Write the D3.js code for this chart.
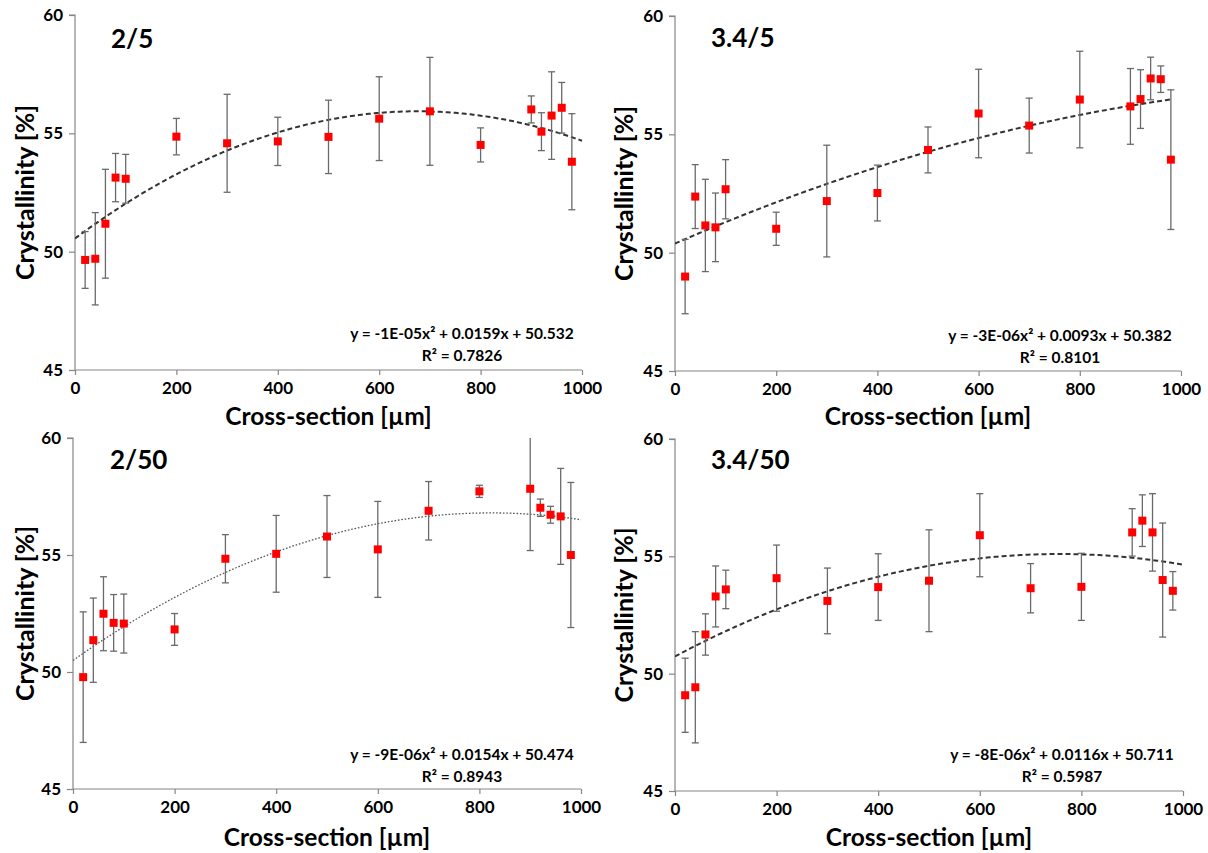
<!DOCTYPE html>
<html><head><meta charset="utf-8">
<script src="https://cdn.jsdelivr.net/npm/d3@7/dist/d3.min.js"></script>
<style>
body{margin:0;background:#fff}
svg{display:block}
text{font-family:Lato,"Open Sans",sans-serif;fill:#000}
</style></head>
<body>
<svg id="chart" width="1208" height="853"></svg>
<script>
// ---------- data ----------
const crossSection = [20,40,60,80,100,200,300,400,500,600,700,800,900,920,940,960,980];
const panelNames = ["2/5","3.4/5","2/50","3.4/50"];

const cryst_2_5   = [49.65,49.70,51.18,53.13,53.08,54.86,54.58,54.66,54.85,55.62,55.93,54.51,56.01,55.07,55.75,56.08,53.80];
const err_2_5     = [1.20,1.95,2.30,1.02,1.03,0.77,2.07,1.02,1.55,1.77,2.28,0.72,0.57,0.80,1.85,1.07,2.03];

const cryst_34_5  = [48.99,52.37,51.15,51.07,52.68,51.01,52.18,52.52,54.34,55.88,55.37,56.47,56.18,56.49,57.36,57.33,53.93];
const err_34_5    = [1.57,1.35,1.95,1.45,1.25,0.70,2.36,1.18,0.97,1.87,1.16,2.04,1.60,1.24,0.90,0.56,2.95];

const cryst_2_50  = [49.78,51.36,52.49,52.10,52.07,51.82,54.84,55.05,55.79,55.24,56.89,57.72,57.83,57.02,56.72,56.65,55.00];
const err_2_50    = [2.79,1.80,1.58,1.21,1.26,0.68,1.03,1.64,1.75,2.05,1.25,0.26,2.64,0.37,0.36,2.05,3.10];

const cryst_34_50 = [49.08,49.42,51.67,53.29,53.59,54.07,53.10,53.69,53.96,55.90,53.64,53.70,56.02,56.52,56.02,53.99,53.53];
const err_34_50   = [1.58,2.37,0.88,1.30,0.82,1.41,1.40,1.42,2.17,1.77,1.05,1.43,1.01,1.10,1.65,2.43,0.82];

const equationLabels = ["y = -1E-05x² + 0.0159x + 50.532","y = -3E-06x² + 0.0093x + 50.382","y = -9E-06x² + 0.0154x + 50.474","y = -8E-06x² + 0.0116x + 50.711"];
const r2Labels = ["R² = 0.7826","R² = 0.8101","R² = 0.8943","R² = 0.5987"];
const trendEnd = [1000,980,1000,1000];

const xTicks = [0,200,400,600,800,1000];
const yTicks = [45,50,55,60];
const xTitle = "Cross-section [µm]";
const yTitle = "Crystallinity [%]";

const seriesValues = [cryst_2_5, cryst_34_5, cryst_2_50, cryst_34_50];
const seriesErrors = [err_2_5, err_34_5, err_2_50, err_34_50];

// ---------- layout ----------
const frames = [
  {x0:75, x1:582, top:15, bottom:370, titleX:25, xTitleY:425, labelX:111, labelY:48, eqRight:577, eqY:339, trend:"dash"},
  {x0:675,x1:1181,top:16, bottom:371, titleX:624,xTitleY:425, labelX:711, labelY:47, eqRight:1175,eqY:341, trend:"dash"},
  {x0:73, x1:581, top:438,bottom:789, titleX:25, xTitleY:846, labelX:110, labelY:469,eqRight:577, eqY:760, trend:"dot"},
  {x0:675,x1:1183,top:439,bottom:791, titleX:624,xTitleY:846, labelX:711, labelY:469,eqRight:1177,eqY:760, trend:"dash"}
];

// least squares quadratic fit (like a spreadsheet polynomial trendline)
function quadFit(xv, yv){
  let S=[0,0,0,0,0], T=[0,0,0];
  xv.forEach((x,i)=>{ const y=yv[i]; let p=1;
    for(let k=0;k<5;k++){ S[k]+=p; if(k<3) T[k]+=p*y; p*=x; } });
  const A=[[S[0],S[1],S[2],T[0]],[S[1],S[2],S[3],T[1]],[S[2],S[3],S[4],T[2]]];
  for(let i=0;i<3;i++){
    for(let j=i+1;j<3;j++){ const f=A[j][i]/A[i][i]; for(let k=i;k<4;k++) A[j][k]-=f*A[i][k]; }
  }
  const c=[0,0,0];
  for(let i=2;i>=0;i--){ let s=A[i][3]; for(let k=i+1;k<3;k++) s-=A[i][k]*c[k]; c[i]=s/A[i][i]; }
  return x=>c[0]+c[1]*x+c[2]*x*x;
}

const svg = d3.select("#chart");
const axisColor = "#868686";

frames.forEach((f,pi)=>{
  const x = d3.scaleLinear().domain([0,1000]).range([f.x0,f.x1]);
  const y = d3.scaleLinear().domain([45,60]).range([f.bottom,f.top]);
  const g = svg.append("g");

  const clipId = "clip"+pi;
  svg.append("clipPath").attr("id",clipId).append("rect")
    .attr("x",f.x0).attr("y",f.top).attr("width",f.x1-f.x0+20).attr("height",f.bottom-f.top);

  // axes
  const yAx = g.append("g").attr("transform",`translate(${f.x0},0)`)
    .call(d3.axisLeft(y).tickValues(yTicks).tickSize(6).tickPadding(6).tickFormat(d3.format("d")));
  const xAx = g.append("g").attr("transform",`translate(0,${f.bottom})`)
    .call(d3.axisBottom(x).tickValues(xTicks).tickSize(5).tickPadding(7).tickFormat(d3.format("d")));
  [yAx,xAx].forEach(a=>{
    a.select(".domain").attr("stroke",axisColor).attr("stroke-width",1.2);
    a.selectAll(".tick line").attr("stroke",axisColor).attr("stroke-width",1.2);
    a.selectAll(".tick text").attr("font-family","Lato, sans-serif").attr("font-size",17)
      .attr("font-weight","bold").attr("fill","#111");
  });
  yAx.select(".domain").attr("d",`M0,${f.bottom}V${f.top}H-6`);
  xAx.select(".domain").attr("d",`M${f.x0},0H${f.x1}`);

  const plot = g.append("g").attr("clip-path",`url(#${clipId})`);

  // trendline
  const fit = quadFit(crossSection, seriesValues[pi]);
  const tx = d3.range(0, trendEnd[pi]+1, 5);
  plot.append("path")
    .datum(tx)
    .attr("fill","none")
    .attr("stroke", f.trend==="dot" ? "#555" : "#333")
    .attr("stroke-width", f.trend==="dot" ? 1.3 : 2)
    .attr("stroke-dasharray", f.trend==="dot" ? "1.6,1.8" : "5,3")
    .attr("d", d3.line().x(d=>x(d)).y(d=>y(fit(d))));

  // error bars
  const vals = seriesValues[pi], errs = seriesErrors[pi];
  const eb = plot.selectAll(".eb").data(crossSection).enter().append("g").attr("class","eb")
    .attr("stroke","#6a6a6a").attr("stroke-width",1.3);
  eb.append("line").attr("x1",d=>x(d)).attr("x2",d=>x(d))
    .attr("y1",(d,i)=>y(vals[i]+errs[i])).attr("y2",(d,i)=>y(vals[i]-errs[i]));
  eb.append("line").attr("x1",d=>x(d)-3.5).attr("x2",d=>x(d)+3.5)
    .attr("y1",(d,i)=>y(vals[i]+errs[i])).attr("y2",(d,i)=>y(vals[i]+errs[i]));
  eb.append("line").attr("x1",d=>x(d)-3.5).attr("x2",d=>x(d)+3.5)
    .attr("y1",(d,i)=>y(vals[i]-errs[i])).attr("y2",(d,i)=>y(vals[i]-errs[i]));

  // markers
  const s = 8;
  g.selectAll(".pt").data(crossSection).enter().append("rect")
    .attr("x",d=>x(d)-s/2).attr("y",(d,i)=>y(vals[i])-s/2)
    .attr("width",s).attr("height",s).attr("fill","#ff0000");

  // panel label
  g.append("text").attr("x",f.labelX).attr("y",f.labelY)
    .attr("font-size",26).attr("font-weight","bold").text(panelNames[pi]);

  // equation
  const eqCenter = f.eqRight - 115;
  g.append("text").attr("x",eqCenter).attr("y",f.eqY).attr("text-anchor","middle")
    .attr("font-size",15.5).attr("font-weight","bold").text(equationLabels[pi]);
  g.append("text").attr("x",eqCenter).attr("y",f.eqY+22).attr("text-anchor","middle")
    .attr("font-size",15.5).attr("font-weight","bold").text(r2Labels[pi]);

  // axis titles
  g.append("text").attr("x",(f.x0+f.x1)/2).attr("y",f.xTitleY).attr("text-anchor","middle")
    .attr("font-size",24.5).attr("font-weight","bold").text(xTitle);
  g.append("text").attr("transform",`translate(${f.titleX+9},${(f.top+f.bottom)/2}) rotate(-90)`)
    .attr("text-anchor","middle").attr("font-size",25).attr("font-weight","bold").text(yTitle);
});
</script>
</body></html>
